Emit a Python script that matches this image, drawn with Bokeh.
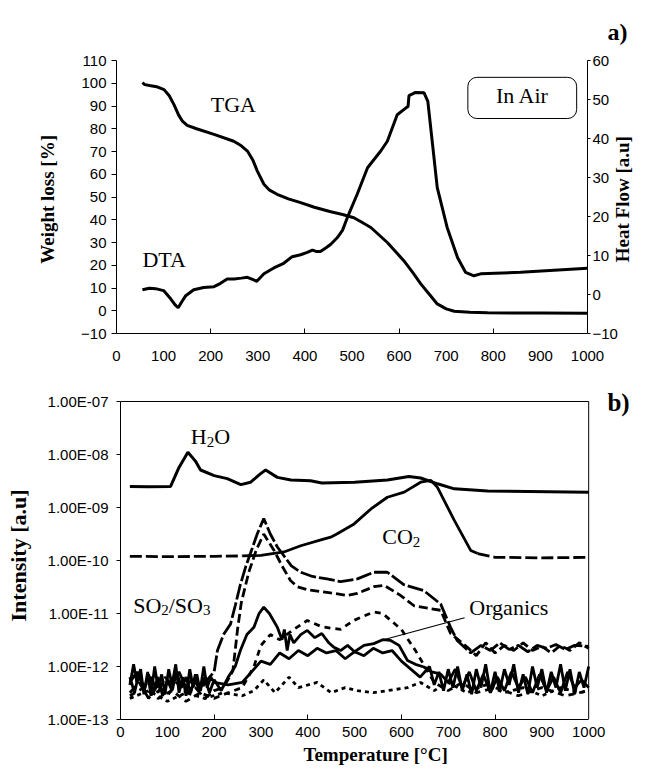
import math
from bokeh.plotting import figure
from bokeh.models import Range1d, LinearAxis, FixedTicker, Label, BoxAnnotation, Title
from bokeh.embed import file_html
from bokeh.resources import INLINE

SERIF = "Liberation Serif"
SANS = "Liberation Sans"

# ---------------- panel a) data ----------------
tga_temp = [55, 60, 70, 85, 101, 112, 122, 132, 140, 150, 170, 207, 249, 265, 278, 290, 299, 313, 325, 341,
            365, 391, 420, 455, 480, 504, 520, 540, 575, 610, 630, 646, 665, 681, 700, 717, 750, 788, 900, 1000]
tga_weight = [100.3, 99.4, 99.0, 98.5, 97.2, 94.5, 90.6, 86.0, 83.3, 81.5, 80.0, 77.5, 74.5, 72.5, 70.2, 66.0,
              61.4, 55.6, 53.0, 51.2, 49.2, 47.5, 45.5, 43.5, 42.3, 40.9, 39.0, 36.6, 30.0, 22.0, 16.5, 11.8,
              7.0, 3.0, 0.8, -0.2, -0.7, -0.9, -1.0, -1.1]

dta_temp = [55, 70, 83, 100, 115, 124, 131, 138, 147, 164, 185, 207, 220, 235, 250, 265, 278, 290, 298, 313,
            334, 355, 373, 391, 405, 416, 425, 433, 445, 455, 469, 480, 490, 511, 533, 561, 575, 596, 614, 619,
            621, 635, 653, 661, 671, 681, 702, 724, 741, 759, 773, 858, 1000]
dta_heat = [1.2, 1.6, 1.5, 1.0, -1.1, -2.6, -3.4, -2.0, -0.3, 1.2, 1.8, 2.0, 2.8, 4.0, 4.0, 4.2, 4.4, 3.8, 3.4,
            5.3, 6.8, 8.0, 9.7, 10.2, 10.8, 11.4, 11.0, 11.0, 12.0, 12.9, 14.6, 16.5, 19.7, 25.7, 32.5, 36.8,
            39.3, 46.1, 47.8, 48.2, 51.0, 51.8, 51.7, 49.5, 38.5, 27.4, 17.2, 9.5, 5.7, 4.8, 5.3, 5.7, 6.7]

# ---------------- panel b) data ----------------
h2o_temp = [20, 60, 107, 125, 144, 160, 171, 200, 228, 257, 278, 300, 310, 335, 364, 406, 430, 500, 570, 616,
            641, 677, 713, 784, 1000]
h2o_int = [2.5e-9, 2.45e-9, 2.5e-9, 5.7e-9, 1.1e-8, 7.5e-9, 5.1e-9, 4.0e-9, 3.5e-9, 2.7e-9, 3.0e-9, 4.4e-9,
           5.1e-9, 3.7e-9, 3.3e-9, 3.2e-9, 2.9e-9, 3.0e-9, 3.3e-9, 3.85e-9, 3.6e-9, 2.8e-9, 2.25e-9, 2.05e-9,
           1.95e-9]

co2_temp = [20, 100, 200, 260, 300, 349, 385, 428, 449, 463, 499, 535, 570, 606, 641, 663, 677, 713, 748, 763,
            800, 900, 1000]
co2_int = [1.2e-10, 1.18e-10, 1.2e-10, 1.22e-10, 1.25e-10, 1.45e-10, 1.9e-10, 2.45e-10, 2.75e-10, 3.2e-10,
           4.9e-10, 9.4e-10, 1.56e-9, 1.95e-9, 3.0e-9, 3.25e-9, 2.4e-9, 5.7e-10, 1.55e-10, 1.35e-10, 1.15e-10,
           1.12e-10, 1.15e-10]

so2_temp = [20, 35, 50, 65, 80, 95, 110, 125, 140, 155, 170, 185, 200, 207, 220, 235, 245, 256, 268, 278, 292,
            306, 320, 335, 349, 365, 385, 410, 441, 470, 506, 541, 570, 605, 648, 684, 705, 719, 748, 770, 790,
            810, 830, 850, 870, 890, 910, 930, 950, 970, 1000]
so2_int = [5.0e-13, 7.9e-13, 4.0e-13, 6.3e-13, 3.2e-13, 6.3e-13, 4.5e-13, 7.9e-13, 4.0e-13, 6.3e-13, 3.5e-13,
           5.6e-13, 7.9e-13, 2.0e-12, 4.0e-12, 6.3e-12, 1.4e-11, 3.5e-11, 7.9e-11, 1.4e-10, 3.16e-10, 6.2e-10,
           3.16e-10, 1.8e-10, 1.23e-10, 7.9e-11, 6.0e-11, 5.0e-11, 4.5e-11, 4.0e-11, 4.5e-11, 6.0e-11, 6.0e-11,
           3.5e-11, 2.7e-11, 1.5e-11, 5.5e-12, 3.1e-12, 1.8e-12, 2.5e-12, 2.0e-12, 2.8e-12, 2.1e-12, 2.5e-12,
           1.9e-12, 2.5e-12, 2.2e-12, 2.6e-12, 2.1e-12, 2.5e-12, 2.4e-12]

so3_temp = [20, 40, 60, 80, 100, 120, 140, 160, 180, 200, 220, 240, 250, 258, 274, 290, 306, 328, 345, 363, 378,
            400, 441, 484, 506, 541, 563, 598, 627, 662, 684, 705, 741, 760, 780, 800, 820, 840, 860, 880, 900,
            920, 940, 960, 980, 1000]
so3_int = [3.2e-13, 5.0e-13, 2.5e-13, 4.5e-13, 2.8e-13, 5.0e-13, 3.2e-13, 4.0e-13, 2.5e-13, 3.5e-13, 4.0e-13,
           8.3e-13, 5.0e-12, 1.6e-11, 6.0e-11, 1.58e-10, 3.16e-10, 1.55e-10, 7.9e-11, 4.2e-11, 3.2e-11, 2.8e-11,
           2.5e-11, 2.2e-11, 2.4e-11, 3.2e-11, 3.4e-11, 2.2e-11, 1.4e-11, 1.23e-11, 1.15e-11, 4.2e-12, 2.3e-12,
           1.6e-12, 2.8e-12, 1.8e-12, 2.5e-12, 2.0e-12, 2.8e-12, 2.0e-12, 2.4e-12, 1.8e-12, 2.5e-12, 2.0e-12,
           2.8e-12, 2.2e-12]

org1_temp = [20, 30, 40, 50, 60, 70, 80, 90, 100, 110, 120, 130, 140, 150, 160, 170, 180, 190, 200, 215, 230,
             245, 256, 270, 285, 296, 306, 318, 335, 345, 350, 356, 362, 370, 385, 399, 415, 430, 445, 456, 470,
             485, 500, 520, 541, 560, 577, 595, 613, 630, 648, 665, 684, 700, 715, 730, 745, 760, 775, 790, 805,
             820, 835, 850, 865, 880, 895, 910, 925, 940, 955, 970, 985, 1000]
org1_int = [6.3e-13, 3.2e-13, 7.9e-13, 3.5e-13, 7.1e-13, 3.2e-13, 6.3e-13, 2.8e-13, 5.6e-13, 3.5e-13, 7.9e-13,
            4.0e-13, 6.3e-13, 3.2e-13, 7.1e-13, 3.5e-13, 6.3e-13, 3.2e-13, 5.6e-13, 3.5e-13, 6.3e-13, 1.0e-12,
            2.0e-12, 4.0e-12, 5.5e-12, 1.0e-11, 1.32e-11, 1.0e-11, 5.5e-12, 3.2e-12, 5.0e-12, 2.0e-12, 4.0e-12,
            2.8e-12, 4.0e-12, 4.8e-12, 3.5e-12, 4.2e-12, 2.8e-12, 2.3e-12, 2.0e-12, 2.5e-12, 1.9e-12, 2.5e-12,
            2.7e-12, 3.2e-12, 3.1e-12, 2.5e-12, 1.3e-12, 1.1e-12, 9.8e-13, 7.9e-13, 7.2e-13, 5.0e-13, 8.9e-13,
            4.0e-13, 7.9e-13, 3.5e-13, 7.1e-13, 3.2e-13, 6.3e-13, 3.5e-13, 7.9e-13, 4.0e-13, 6.3e-13, 3.2e-13,
            7.1e-13, 3.5e-13, 6.3e-13, 3.2e-13, 7.9e-13, 4.0e-13, 5.6e-13, 4.0e-13]

org2_temp = [20, 28, 35, 43, 50, 58, 65, 73, 80, 88, 95, 103, 110, 118, 125, 133, 140, 148, 155, 163, 170, 178,
             185, 193, 200, 230, 260, 280, 300, 320, 340, 360, 380, 400, 420, 440, 460, 480, 500, 520, 540, 560,
             580, 600, 620, 640, 660, 670, 680, 690, 700, 710, 720, 730, 740, 750, 760, 770, 780, 790, 800, 810,
             820, 830, 840, 850, 860, 870, 880, 890, 900, 910, 920, 930, 940, 950, 960, 970, 980, 990, 1000]
org2_int = [4.5e-13, 1.1e-12, 5.0e-13, 8.9e-13, 3.0e-13, 7.9e-13, 2.8e-13, 1.0e-12, 4.0e-13, 7.1e-13, 3.0e-13,
            8.9e-13, 4.5e-13, 1.1e-12, 3.2e-13, 6.3e-13, 2.8e-13, 8.9e-13, 4.0e-13, 7.1e-13, 3.5e-13, 1.0e-12,
            4.0e-13, 6.3e-13, 5.0e-13, 4.5e-13, 5.0e-13, 7.9e-13, 1.26e-12, 1.1e-12, 1.8e-12, 1.4e-12, 2.0e-12,
            1.6e-12, 2.2e-12, 1.8e-12, 2.0e-12, 1.4e-12, 1.9e-12, 1.6e-12, 2.2e-12, 1.8e-12, 2.0e-12, 1.26e-12,
            8.9e-13, 6.3e-13, 1.0e-12, 4.5e-13, 7.9e-13, 3.5e-13, 8.9e-13, 4.0e-13, 1.0e-12, 3.5e-13, 7.1e-13,
            3.0e-13, 8.9e-13, 4.0e-13, 1.1e-12, 3.2e-13, 7.9e-13, 3.5e-13, 8.9e-13, 4.5e-13, 1.1e-12, 3.2e-13,
            7.1e-13, 3.0e-13, 1.0e-12, 4.0e-13, 8.9e-13, 3.2e-13, 7.9e-13, 4.0e-13, 1.1e-12, 3.5e-13, 8.9e-13,
            3.0e-13, 7.9e-13, 4.0e-13, 1.0e-12]

org3_temp = [20, 50, 80, 110, 140, 170, 200, 230, 260, 285, 300, 320, 340, 370, 399, 430, 470, 498, 541, 560,
             600, 630, 650, 670, 700, 730, 760, 800, 850, 900, 950, 1000]
org3_int = [2.8e-13, 4.0e-13, 2.5e-13, 3.5e-13, 2.2e-13, 3.2e-13, 2.5e-13, 3.2e-13, 4.0e-13, 1.0e-12, 2.5e-12,
            4.0e-12, 3.2e-12, 5.0e-12, 7.4e-12, 5.6e-12, 5.0e-12, 7.4e-12, 1.07e-11, 1.0e-11, 5.0e-12, 2.0e-12,
            1.0e-12, 5.0e-13, 3.5e-13, 5.0e-13, 3.2e-13, 4.0e-13, 2.8e-13, 4.0e-13, 2.8e-13, 3.5e-13]

org4_temp = [20, 60, 100, 140, 180, 220, 260, 285, 306, 330, 360, 380, 420, 450, 480, 506, 540, 570, 613, 641,
             670, 700, 740, 780, 820, 860, 900, 940, 980, 1000]
org4_int = [2.5e-13, 3.5e-13, 2.2e-13, 3.2e-13, 2.5e-13, 3.2e-13, 2.8e-13, 3.5e-13, 5.6e-13, 3.2e-13, 6.3e-13,
            4.0e-13, 5.0e-13, 3.2e-13, 4.0e-13, 3.5e-13, 3.2e-13, 3.5e-13, 4.0e-13, 5.0e-13, 3.5e-13, 5.0e-13,
            3.2e-13, 4.5e-13, 3.2e-13, 4.0e-13, 2.8e-13, 4.0e-13, 3.2e-13, 3.5e-13]

# ---------------- ticks ----------------
temp_ticks = [0, 100, 200, 300, 400, 500, 600, 700, 800, 900, 1000]
temp_minor = [200, 400, 600, 800]
weight_ticks = [-10, 0, 10, 20, 30, 40, 50, 60, 70, 80, 90, 100, 110]
heat_ticks = [-10, 0, 10, 20, 30, 40, 50, 60]
int_ticks = [1e-13, 1e-12, 1e-11, 1e-10, 1e-09, 1e-08, 1e-07]
int_tick_labels = ["1.00E-13", "1.00E-12", "1.00E-11", "1.00E-10", "1.00E-09", "1.00E-08", "1.00E-07"]

LIFT = 7  # pixels: moves annotation text up onto its baseline


def style_axis(ax):
    ax.major_label_text_font = SANS
    ax.major_label_text_font_size = "15px"
    ax.major_label_text_color = "black"
    ax.axis_line_color = "black"
    ax.axis_line_width = 1
    ax.major_tick_line_color = "black"
    ax.minor_tick_line_color = "black"
    ax.axis_label_text_font = SERIF
    ax.axis_label_text_font_style = "bold"
    ax.axis_label_text_font_size = "19px"
    ax.axis_label_text_color = "black"


def style_temp_axis(ax):
    style_axis(ax)
    ax.ticker = FixedTicker(ticks=temp_ticks, minor_ticks=temp_minor)
    ax.major_tick_line_color = None
    ax.major_tick_in = 0
    ax.major_tick_out = 0
    ax.minor_tick_in = 5
    ax.minor_tick_out = 0


def add_text(p, x, y, text, size="22px", style="normal", xoff=0, yoff=0, align="left"):
    p.add_layout(Label(x=x, y=y, text=text, x_offset=xoff, y_offset=yoff + LIFT,
                       text_font=SERIF, text_font_size=size, text_font_style=style,
                       text_color="black", text_baseline="alphabetic", text_align=align))


# ================= panel a =================
p1 = figure(width=647, height=375, x_range=Range1d(0, 1000), y_range=Range1d(-10, 110),
            output_backend="svg", toolbar_location=None,
            min_border_left=116, min_border_right=60, min_border_top=59, min_border_bottom=42)
p1.extra_y_ranges = {"dta": Range1d(-10, 60)}
p1.grid.visible = False
p1.outline_line_color = None
p1.background_fill_color = "white"
p1.border_fill_color = "white"

p1.line(tga_temp, tga_weight, line_width=3, color="black")
p1.line(dta_temp, dta_heat, line_width=3, color="black", y_range_name="dta")

style_temp_axis(p1.xaxis[0])
p1.xaxis[0].major_label_standoff = 17

ya = p1.yaxis[0]
style_axis(ya)
ya.ticker = FixedTicker(ticks=weight_ticks, minor_ticks=[])
ya.major_tick_in = 0
ya.major_tick_out = 5
ya.major_label_standoff = 5
ya.axis_label = "Weight loss  [%]"
ya.axis_label_standoff = 20

NBSP = "\u00a0"
yr = LinearAxis(y_range_name="dta")
style_axis(yr)
yr.ticker = FixedTicker(ticks=heat_ticks, minor_ticks=[])
yr.major_tick_in = 0
yr.major_tick_out = 3
yr.major_label_standoff = 2
yr.axis_label_standoff = 2
yr.axis_label_orientation = math.pi / 2
if hasattr(yr, "axis_label_align"):
    yr.axis_label_align = "start"
    yr.axis_label = NBSP * 15 + "Heat Flow  [a.u]"
else:
    yr.axis_label = "Heat Flow  [a.u]"
p1.add_layout(yr, "right")

p1.add_layout(Title(text="a)", align="right", offset=-40, standoff=32, text_font=SERIF,
                    text_font_size="24px", text_font_style="bold", text_color="black"), "above")

p1.add_layout(BoxAnnotation(left=746, right=977, bottom=84.5, top=102.6, fill_alpha=0,
                            line_color="black", line_alpha=1, line_width=1, border_radius=9))
add_text(p1, 862, 91.6, "In Air", align="center")
add_text(p1, 200, 87.7, "TGA")
add_text(p1, 55, 19.5, "DTA")

# ================= panel b =================
t_min, t_max, t_view = 0, 1000, 1100
i_min, i_max, i_view = 1e-13, 1e-7, 1.544e-7
p2 = figure(width=647, height=394, x_range=Range1d(t_min, t_view), y_range=Range1d(i_min, i_view),
            y_axis_type="log", output_backend="svg", toolbar_location=None,
            min_border_left=120, min_border_right=12, min_border_top=16, min_border_bottom=50)
p2.grid.visible = False
p2.outline_line_color = None
p2.background_fill_color = "white"
p2.border_fill_color = "white"

# frame of the plot area (top and right edges)
p2.line([t_min, t_max, t_max], [i_max, i_max, i_min], line_width=1, color="black")

W = 2.8
p2.line(org4_temp, org4_int, line_width=W, color="black", line_dash="4 4")
p2.line(org3_temp, org3_int, line_width=W, color="black", line_dash="6 5")
p2.line(org2_temp, org2_int, line_width=W, color="black")
p2.line(org1_temp, org1_int, line_width=W, color="black")
p2.line(so3_temp, so3_int, line_width=W, color="black", line_dash="9 4")
p2.line(so2_temp, so2_int, line_width=W, color="black", line_dash="16 3")
p2.line(co2_temp[:4], co2_int[:4], line_width=W, color="black", line_dash="12 4")
p2.line(co2_temp[3:20], co2_int[3:20], line_width=W, color="black")
p2.line(co2_temp[19:], co2_int[19:], line_width=W, color="black", line_dash="12 4")
p2.line(h2o_temp, h2o_int, line_width=3, color="black")

# pointer for "Organics"
p2.line([735, 556], [8.3e-12, 3.1e-12], line_width=1.2, color="black")

xb = p2.xaxis[0]
style_temp_axis(xb)
xb.bounds = (t_min, t_max)
xb.major_label_standoff = 7
xb.axis_label = "Temperature  [°C]"
xb.axis_label_standoff = 4

yb = p2.yaxis[0]
style_axis(yb)
yb.bounds = (i_min, i_max)
yb.ticker = FixedTicker(ticks=int_ticks, minor_ticks=[])
yb.major_label_overrides = dict(zip(int_ticks, int_tick_labels))
yb.major_tick_in = 0
yb.major_tick_out = 4
yb.major_label_standoff = 8
yb.axis_label = "Intensity [a.u]"
yb.axis_label_text_font_size = "22px"
yb.axis_label_standoff = 14

# H2O
add_text(p2, 150, 1.58e-8, "H")
add_text(p2, 150, 1.58e-8, "2", size="15px", xoff=15.9, yoff=-5)
add_text(p2, 150, 1.58e-8, "O", xoff=23.4)
# CO2
add_text(p2, 559, 2.07e-10, "CO")
add_text(p2, 559, 2.07e-10, "2", size="15px", xoff=30.6, yoff=-5)
# SO2/SO3
add_text(p2, 27, 1.06e-11, "SO")
add_text(p2, 27, 1.06e-11, "2", size="15px", xoff=28.1, yoff=-5)
add_text(p2, 27, 1.06e-11, "/SO", xoff=35.6)
add_text(p2, 27, 1.06e-11, "3", size="15px", xoff=69.8, yoff=-5)
# Organics
add_text(p2, 745, 9.5e-12, "Organics")
add_text(p2, 1040, 7.0e-8, "b)", size="25px", style="bold")

open("out.html", "w").write(file_html([p1, p2], INLINE))
